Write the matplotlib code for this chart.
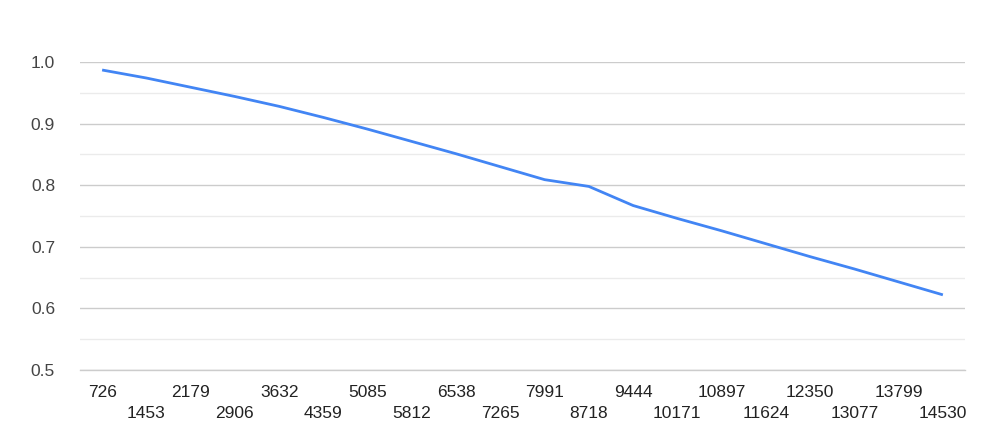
import matplotlib
matplotlib.use("Agg")
import matplotlib.pyplot as plt
import numpy as np

categories = ["726", "1453", "2179", "2906", "3632", "4359", "5085", "5812", "6538", "7265",
              "7991", "8718", "9444", "10171", "10897", "11624", "12350", "13077", "13799", "14530"]
values = [0.987, 0.974, 0.959, 0.944, 0.928, 0.910, 0.891, 0.871, 0.851, 0.830,
          0.809, 0.798, 0.767, 0.746, 0.726, 0.705, 0.684, 0.664, 0.643, 0.622]
y_ticks = [0.5, 0.6, 0.7, 0.8, 0.9, 1.0]
y_minor = [0.55, 0.65, 0.75, 0.85, 0.95]

plt.rcParams["font.family"] = ["Liberation Sans", "DejaVu Sans"]

fig = plt.figure(figsize=(9.82, 4.41), dpi=100)
ax = fig.add_axes([80 / 982, 1 - 370 / 441, 885 / 982, 308 / 441])

x = np.arange(len(categories))
ax.plot(x, values, color="#4285f4", linewidth=2, solid_capstyle="butt", zorder=3)

ax.set_xlim(-0.5, len(categories) - 0.5)
ax.set_ylim(0.5, 1.0)

ax.set_yticks(y_ticks, [f"{v:.1f}" for v in y_ticks])
ax.set_yticks(y_minor, minor=True)
ax.grid(axis="y", which="major", color="#cccccc", linewidth=1)
ax.grid(axis="y", which="minor", color="#ebebeb", linewidth=1)

# category labels alternate between two rows
ax.set_xticks(x[::2], categories[::2])
ax.set_xticks(x[1::2], categories[1::2], minor=True)

ax.tick_params(axis="y", which="both", length=0, pad=18, labelsize=12.5, labelcolor="#444444")
ax.tick_params(axis="x", which="major", length=0, pad=11, labelsize=12.5, labelcolor="#222222")
ax.tick_params(axis="x", which="minor", length=0, pad=26, labelsize=12.5, labelcolor="#222222")

for side in ["top", "right", "left"]:
    ax.spines[side].set_visible(False)
ax.spines["bottom"].set_color("#cccccc")
ax.spines["bottom"].set_linewidth(1)

fig.savefig("out.png", dpi=100)
